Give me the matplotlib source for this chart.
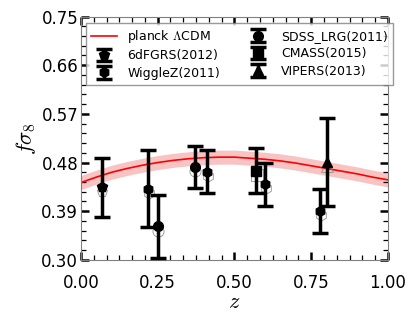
"""Growth rate f*sigma8 measurements against the Planck LCDM prediction."""

import numpy as np
import matplotlib

matplotlib.use("Agg")
import matplotlib.pyplot as plt
import matplotlib.transforms as mtransforms

plt.rcParams["mathtext.fontset"] = "cm"

# Planck LCDM prediction
theory_z = [0.00, 0.05, 0.10, 0.15, 0.20, 0.25, 0.30, 0.35, 0.40, 0.45, 0.50,
            0.55, 0.60, 0.65, 0.70, 0.75, 0.80, 0.85, 0.90, 0.95, 1.00]
theory_fs8 = [0.443, 0.453, 0.462, 0.469, 0.475, 0.480, 0.484, 0.487, 0.489, 0.490, 0.490,
              0.488, 0.486, 0.483, 0.479, 0.474, 0.469, 0.464, 0.459, 0.453, 0.448]
theory_err = 0.013

# survey measurements: name -> z, f*sigma8, error
surveys = ["6dFGRS(2012)", "WiggleZ(2011)", "SDSS_LRG(2011)", "CMASS(2015)", "VIPERS(2013)"]
survey_z = [[0.067], [0.22, 0.41, 0.60, 0.78], [0.25, 0.37], [0.57], [0.80]]
survey_fs8 = [[0.434], [0.432, 0.463, 0.440, 0.390], [0.362, 0.472], [0.465], [0.481]]
survey_err = [[0.055], [0.071, 0.040, 0.040, 0.041], [0.058, 0.039], [0.041], [0.081]]
markers = ["p", "h", "o", "s", "^"]


def main() -> None:
    fig = plt.figure(figsize=(4.15, 3.12), dpi=100)
    ax = fig.add_axes([0.195, 0.167, 0.74, 0.78])

    ax.fill_between(theory_z,
                    [v - theory_err for v in theory_fs8],
                    [v + theory_err for v in theory_fs8],
                    color="#f7b5b5", alpha=0.8, lw=0, zorder=1)
    line, = ax.plot(theory_z, theory_fs8, color="red", lw=1.2, zorder=2,
                    label=r"planck $\Lambda$CDM")

    # faint grey outlines sitting just under each point
    ghost = ax.transData + mtransforms.ScaledTranslation(0.5 / 72, -3 / 72, fig.dpi_scale_trans)

    handles = [line]
    for name, zs, vals, errs, mk in zip(surveys, survey_z, survey_fs8, survey_err, markers):
        ax.plot(zs, vals, mk, ms=8, mfc="none", mec="#909090", mew=0.6,
                transform=ghost, zorder=3)
        h = ax.errorbar(zs, vals, yerr=errs, fmt=mk, color="black", ms=7,
                        elinewidth=2.5, capsize=6, capthick=2.5, zorder=4, label=name)
        handles.append(h)

    ax.set_xlim(0, 1)
    ax.set_ylim(0.30, 0.75)
    ax.set_xticks(np.linspace(0, 1, 5))
    ax.set_yticks(np.linspace(0.30, 0.75, 6))
    ax.set_xticks(np.linspace(0, 1, 25), minor=True)
    ax.set_yticks(np.linspace(0.30, 0.75, 26), minor=True)
    ax.xaxis.set_major_formatter(plt.FormatStrFormatter("%.2f"))
    ax.yaxis.set_major_formatter(plt.FormatStrFormatter("%.2f"))
    ax.tick_params(which="both", direction="in", top=True, right=True, labelsize=12)
    ax.tick_params(which="major", length=6, width=1.8)
    ax.tick_params(which="minor", length=3.5, width=0.9)
    ax.tick_params(axis="x", which="major", pad=10)
    ax.tick_params(axis="y", which="major", pad=2)
    for sp in ax.spines.values():
        sp.set_color("#808080")
        sp.set_linewidth(0.8)

    ax.set_xlabel(r"$z$", fontsize=16, labelpad=0)
    ax.set_ylabel(r"$f\sigma_8$", fontsize=16, labelpad=2)

    ax.legend(handles=handles, ncol=2, loc="upper left", fontsize=9,
              bbox_to_anchor=(0.016, 0.712, 1.0, 0.261), mode="expand",
              borderaxespad=0, fancybox=False, edgecolor="#808080",
              handlelength=2.1, labelspacing=0.35, columnspacing=1.0)

    fig.savefig("out.png", dpi=100)


if __name__ == "__main__":
    main()
